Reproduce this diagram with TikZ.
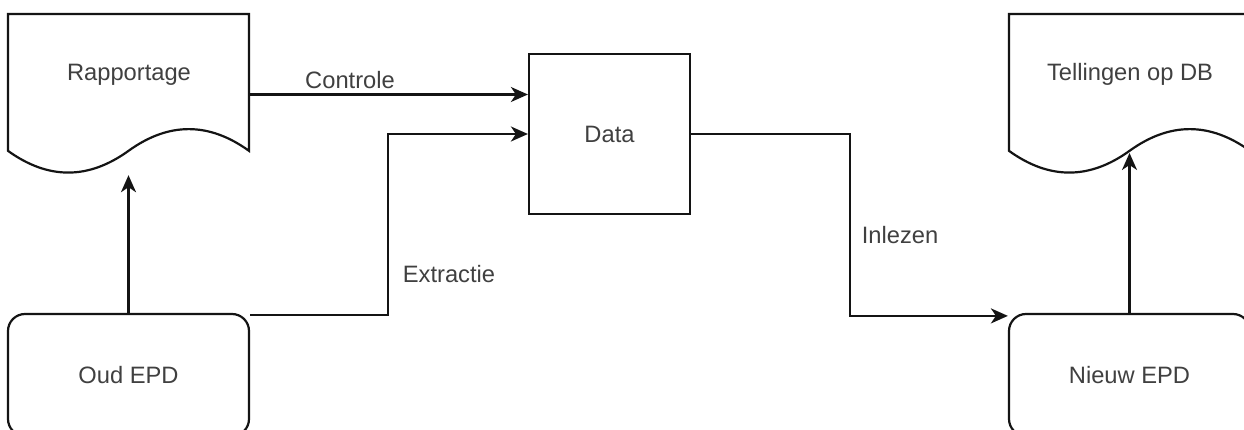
\documentclass[tikz,border=0pt]{standalone}
\usepackage{fontspec}
\setmainfont{Liberation Sans}
\usetikzlibrary{arrows.meta,calc}
\begin{document}
\begin{tikzpicture}[x=1pt,y=-1pt,
  shapeline/.style={draw=black!92, line width=2.2pt},
  arr/.style={draw=black!92, line width=2.2pt, -{Stealth[length=17pt,width=15pt,inset=5pt]}},
  txt/.style={text=black!75, font=\fontsize{23.7}{28}\selectfont},
  lbl/.style={txt, anchor=base, inner sep=0pt},
  docbox/.style={draw=none, inner sep=0pt, minimum width=241pt, minimum height=161pt},
  rbox/.style={shapeline, txt, rounded corners=17pt, inner sep=0pt, minimum width=241pt, minimum height=122pt},
  sqbox/.style={shapeline, txt, inner sep=0pt, minimum width=161pt, minimum height=160pt}]
\useasboundingbox (0,0) rectangle (1244,430);
\clip (0,0) rectangle (1244,430);
\fill[white] (0,0) rectangle (1244,430);

% document shapes
\draw[shapeline] (8,14) -- (249,14) -- (249,150.85)
  .. controls (208.83,121.88) and (168.67,121.88) .. (128.5,150.85)
  .. controls (88.33,179.82) and (48.17,179.82) .. (8,150.85) -- cycle;
\node[docbox] (rap) at (128.5,94.5) {};
\node[lbl] (raptxt) at (129,81) {Rapportage};

\draw[shapeline] (1009,14) -- (1250,14) -- (1250,150.85)
  .. controls (1209.83,121.88) and (1169.67,121.88) .. (1129.5,150.85)
  .. controls (1089.33,179.82) and (1049.17,179.82) .. (1009,150.85) -- cycle;
\node[docbox] (tel) at (1129.5,94.5) {};
\node[lbl] (teltxt) at (1130,81) {Tellingen op DB};
\coordinate (telwave) at (1129.5,153);

% boxes
\node[sqbox] (data) at (609.5,134) {Data};
\node[rbox] (oud) at (128.5,375) {Oud EPD};
\node[rbox] (nieuw) at (1129.5,375) {Nieuw EPD};

% connectors
\draw[arr] (oud.north) -- (rap.south);
\draw[arr] (nieuw.north) -- (nieuw.north |- telwave);
\draw[arr] (rap.east) -- (rap.east -| data.west);
\draw[arr] ([yshift=-2pt]oud.north east) -| ($(data.west)+(-140,0)$) -- (data.west);
\draw[arr] (data.east) -- ++(159,0) |- ([yshift=-3pt]nieuw.north west);

% labels
\node[lbl] (lcontrole) at (350,88.3) {Controle};
\node[lbl] (lextractie) at (449,282.7) {Extractie};
\node[lbl] (linlezen) at (900,243.3) {Inlezen};
\end{tikzpicture}
\end{document}
